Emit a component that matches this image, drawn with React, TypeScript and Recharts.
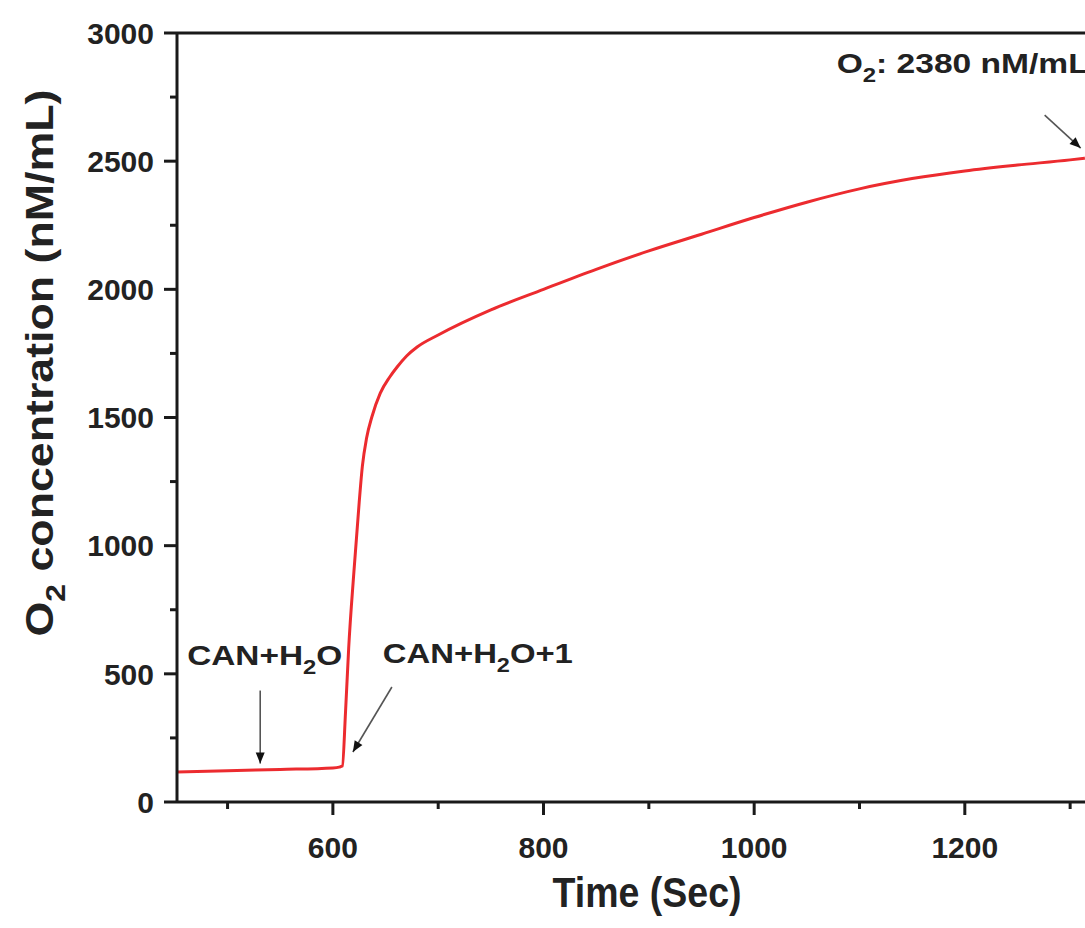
import React from 'react';
import { LineChart, Line, XAxis, YAxis, ReferenceLine, ReferenceDot } from 'recharts';

const timeSec = [452, 500, 550, 600, 606, 609, 612, 615, 620, 625, 628, 632, 637, 645, 654, 661, 670, 680, 700, 750, 800, 850, 900, 950, 1000, 1050, 1100, 1150, 1200, 1250, 1300, 1314];
const o2Conc = [117, 122, 127, 133, 136, 140, 350, 600, 900, 1170, 1310, 1420, 1502, 1595, 1658, 1697, 1740, 1775, 1822, 1920, 2000, 2078, 2150, 2215, 2280, 2340, 2392, 2432, 2462, 2485, 2505, 2512];

const xTicks = [500, 600, 700, 800, 900, 1000, 1100, 1200, 1300];
const xLabeled = [600, 800, 1000, 1200];
const yTicks = [0, 250, 500, 750, 1000, 1250, 1500, 1750, 2000, 2250, 2500, 2750, 3000];
const yLabeled = [0, 500, 1000, 1500, 2000, 2500, 3000];

const data = timeSec.map((t, i) => ({ t, o2: o2Conc[i] }));

const FONT = '"Liberation Sans", Arial, Helvetica, sans-serif';
const AXIS = '#1a1a1a';
const RED = '#ec2b2f';

const YTick = (props: any) => {
  const { x, y, payload } = props;
  const v = payload.value;
  const major = yLabeled.includes(v);
  return (
    <g>
      <line x1={x} x2={x - (major ? 13 : 7)} y1={y} y2={y} stroke={AXIS} strokeWidth={3} />
      {major && (
        <text x={x - 23} y={y} dy="0.36em" textAnchor="end" fontFamily={FONT} fontWeight="bold" fontSize={30} fill="#222">
          {v}
        </text>
      )}
    </g>
  );
};

const XTick = (props: any) => {
  const { x, y, payload } = props;
  const v = payload.value;
  const major = xLabeled.includes(v);
  return (
    <g>
      <line x1={x} x2={x} y1={y} y2={y + (major ? 13 : 7)} stroke={AXIS} strokeWidth={3} />
      {major && (
        <text x={x} y={y + 56} textAnchor="middle" fontFamily={FONT} fontWeight="bold" fontSize={30} fill="#222">
          {v}
        </text>
      )}
    </g>
  );
};

const Head = ({ x, y, ang }: { x: number; y: number; ang: number }) => {
  const len = 11;
  const w = 4.5;
  const ca = Math.cos(ang);
  const sa = Math.sin(ang);
  const bx = x - len * ca;
  const by = y - len * sa;
  const p1 = `${x},${y}`;
  const p2 = `${bx - w * sa},${by + w * ca}`;
  const p3 = `${bx + w * sa},${by - w * ca}`;
  return <polygon points={`${p1} ${p2} ${p3}`} fill="#111" />;
};

const makeArrow = (dx: number, dy: number, label: React.ReactNode, tx: number, ty: number, len: number) => (props: any) => {
  const { cx, cy } = props;
  const sx = cx + dx;
  const sy = cy + dy;
  const ang = Math.atan2(cy - sy, cx - sx);
  return (
    <g>
      <line x1={sx} y1={sy} x2={cx} y2={cy} stroke="#555" strokeWidth={1.6} />
      <Head x={cx} y={cy} ang={ang} />
      <text x={cx + tx} y={cy + ty} fontFamily={FONT} fontWeight="bold" fontSize={28} fill="#222" textLength={len} lengthAdjust="spacingAndGlyphs">
        {label}
      </text>
    </g>
  );
};

const sub = (s: string) => (
  <tspan fontSize={20} dy={9}>{s}</tspan>
);

const arrow1 = makeArrow(0, -73, <>CAN+H{sub('2')}<tspan dy={-9}>O</tspan></>, -73, -99, 155);
const arrow2 = makeArrow(39, -65, <>CAN+H{sub('2')}<tspan dy={-9}>O+1</tspan></>, 30, -89, 190);
const arrow3 = makeArrow(-36, -33, <>O{sub('2')}<tspan dy={-9}>: 2380 nM/mL</tspan></>, -244, -75, 252);

const YLabel = (props: any) => {
  const { viewBox } = props;
  const x = viewBox.x + 53;
  const y = viewBox.y + 330;
  return (
    <text x={x} y={y} transform={`rotate(-90, ${x}, ${y})`} textAnchor="middle" fontFamily={FONT} fontWeight="bold" fontSize={38} fill="#222" textLength={547} lengthAdjust="spacingAndGlyphs">
      O<tspan fontSize={27} dy={12}>2</tspan><tspan dy={-12}> concentration (nM/mL)</tspan>
    </text>
  );
};

const XLabel = (props: any) => {
  const { viewBox } = props;
  const x = viewBox.x + 470;
  const y = viewBox.y + 105;
  return (
    <text x={x} y={y} textAnchor="middle" fontFamily={FONT} fontWeight="bold" fontSize={42} fill="#222" textLength={189} lengthAdjust="spacingAndGlyphs">
      Time (Sec)
    </text>
  );
};

export default function App() {
  return (
    <div style={{ position: 'absolute', left: 0, top: 0, width: 1085, height: 928, overflow: 'hidden', background: '#fff' }}>
      <LineChart width={1117} height={928} data={data} margin={{ top: 33, right: 10, bottom: 0, left: 0 }}>
        <XAxis
          dataKey="t"
          type="number"
          domain={[452, 1335]}
          ticks={xTicks}
          interval={0}
          allowDataOverflow
          height={126}
          tickSize={0}
          tickMargin={0}
          tickLine={false}
          axisLine={{ stroke: AXIS, strokeWidth: 3 }}
          tick={<XTick />}
          label={<XLabel />}
        />
        <YAxis
          type="number"
          domain={[0, 3000]}
          ticks={yTicks}
          interval={0}
          allowDataOverflow
          width={177}
          tickSize={0}
          tickMargin={0}
          tickLine={false}
          axisLine={{ stroke: AXIS, strokeWidth: 3 }}
          tick={<YTick />}
          label={<YLabel />}
        />
        <ReferenceLine y={3000} stroke={AXIS} strokeWidth={3} ifOverflow="visible" />
        <Line type="monotone" dataKey="o2" stroke={RED} strokeWidth={3} dot={false} isAnimationActive={false} />
        <ReferenceDot x={531} y={150} r={0} ifOverflow="visible" shape={arrow1} />
        <ReferenceDot x={619} y={195} r={0} ifOverflow="visible" shape={arrow2} />
        <ReferenceDot x={1310} y={2551} r={0} ifOverflow="visible" shape={arrow3} />
      </LineChart>
    </div>
  );
}
